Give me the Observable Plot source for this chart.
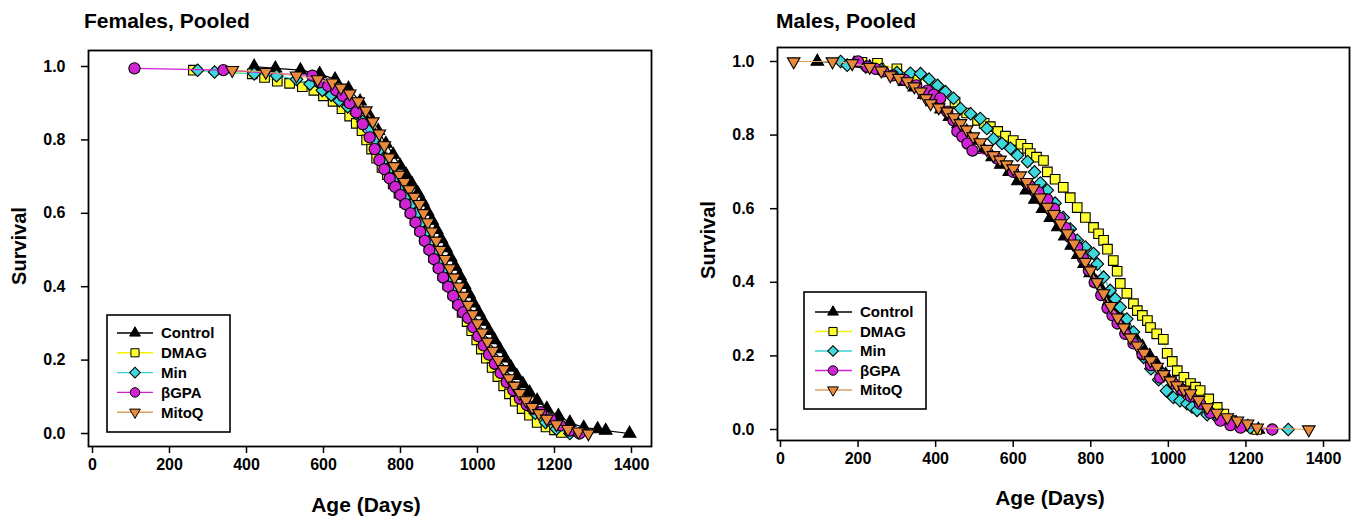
<!DOCTYPE html>
<html><head><meta charset="utf-8">
<script src="https://cdn.jsdelivr.net/npm/d3@7"></script>
<script src="https://cdn.jsdelivr.net/npm/@observablehq/plot@0.6"></script>
<style>
body{margin:0;background:#fff;font-family:"Liberation Sans",Arial,sans-serif;}
#wrap{position:relative;width:1351px;height:517px;overflow:hidden;background:#fff;}
#wrap svg{position:absolute;top:0;}
.t{position:absolute;font-weight:bold;color:#000;white-space:nowrap;line-height:1;}
</style></head><body><div id="wrap"></div>
<script>
// ---------- labels ----------
const seriesNames = ["Control", "DMAG", "Min", "βGPA", "MitoQ"];
const xTicks = [0, 200, 400, 600, 800, 1000, 1200, 1400];
const yTicks = [0, 0.2, 0.4, 0.6, 0.8, 1.0];
const panelTitles = ["Females, Pooled", "Males, Pooled"];
const xTitle = "Age (Days)";
const yTitle = "Survival";

// ---------- Females (age in days, survival fraction) ----------
const fControlDay  = [420,475,540,590,630,665,695,720,742,762,781,799,815,830,845,858,870,882,894,906,918,930,942,954,966,978,990,1003,1016,1030,1044,1058,1072,1087,1102,1118,1135,1155,1180,1210,1240,1276,1312,1333,1395];
const fControlSurv = [1.0,0.995,0.99,0.98,0.965,0.94,0.905,0.865,0.825,0.79,0.76,0.73,0.705,0.68,0.655,0.63,0.605,0.58,0.555,0.53,0.505,0.48,0.455,0.43,0.405,0.38,0.355,0.33,0.305,0.28,0.255,0.23,0.205,0.18,0.157,0.135,0.112,0.09,0.068,0.048,0.03,0.016,0.012,0.008,0.0];

const fDmagDay  = [262,415,447,480,512,545,575,600,625,648,668,685,700,712,725,738,752,766,781,796,811,825,838,850,862,874,886,898,910,923,936,948,960,973,985,998,1010,1023,1038,1053,1068,1083,1098,1116,1135,1155,1178,1200,1218];
const fDmagSurv = [0.99,0.98,0.97,0.96,0.954,0.945,0.935,0.92,0.905,0.885,0.865,0.845,0.825,0.8,0.775,0.75,0.725,0.705,0.68,0.655,0.63,0.605,0.58,0.555,0.53,0.505,0.48,0.455,0.43,0.405,0.38,0.355,0.33,0.305,0.28,0.255,0.23,0.205,0.18,0.155,0.13,0.108,0.088,0.068,0.05,0.03,0.018,0.01,0.003];

const fMinDay  = [273,317,420,478,530,565,597,620,641,663,685,702,718,733,748,762,776,790,804,817,830,843,855,867,879,891,903,915,928,941,954,967,980,993,1006,1020,1034,1048,1063,1078,1095,1112,1130,1150,1177,1205,1240];
const fMinSurv = [0.99,0.985,0.98,0.975,0.965,0.952,0.935,0.922,0.907,0.89,0.872,0.85,0.825,0.8,0.775,0.75,0.725,0.7,0.675,0.65,0.625,0.6,0.575,0.55,0.525,0.5,0.475,0.45,0.425,0.4,0.375,0.35,0.325,0.3,0.275,0.25,0.225,0.2,0.175,0.15,0.125,0.1,0.078,0.055,0.03,0.012,0.0];

const fGpaDay  = [109,340,571,590,612,633,650,668,685,702,720,733,745,758,772,786,800,813,826,839,851,863,875,887,899,911,924,937,950,963,976,989,1002,1016,1030,1045,1060,1076,1093,1110,1128,1145,1165,1190,1215,1240,1265];
const fGpaSurv = [0.995,0.99,0.975,0.957,0.947,0.935,0.92,0.9,0.875,0.843,0.807,0.775,0.745,0.72,0.695,0.672,0.65,0.625,0.6,0.575,0.55,0.525,0.5,0.475,0.45,0.425,0.4,0.375,0.35,0.33,0.315,0.29,0.265,0.24,0.215,0.19,0.165,0.14,0.118,0.095,0.078,0.068,0.058,0.04,0.022,0.008,0.0];

const fMitoDay  = [363,450,530,585,623,645,668,690,710,728,745,758,771,784,797,810,823,836,849,860,871,882,893,904,916,928,940,952,964,976,988,1000,1013,1026,1040,1054,1068,1082,1096,1110,1126,1142,1160,1180,1205,1235,1262,1288];
const fMitoSurv = [0.99,0.985,0.975,0.965,0.956,0.942,0.926,0.905,0.88,0.85,0.817,0.785,0.752,0.728,0.705,0.685,0.665,0.645,0.625,0.6,0.575,0.55,0.525,0.5,0.475,0.45,0.425,0.4,0.375,0.35,0.325,0.3,0.275,0.25,0.225,0.2,0.175,0.15,0.13,0.11,0.09,0.072,0.055,0.04,0.025,0.012,0.005,0.0];

// ---------- Males ----------
const mControlDay  = [95,190,230,265,295,320,345,370,392,414,436,458,480,502,524,546,568,590,612,634,656,676,696,715,733,750,767,783,799,815,831,847,863,880,897,915,933,952,972,993,1015,1038,1062,1088,1115,1145,1175,1205,1232];
const mControlSurv = [1.0,0.995,0.985,0.975,0.96,0.945,0.93,0.91,0.89,0.87,0.85,0.83,0.81,0.785,0.76,0.74,0.72,0.7,0.675,0.65,0.625,0.6,0.575,0.55,0.525,0.5,0.475,0.45,0.425,0.4,0.375,0.35,0.325,0.3,0.275,0.25,0.225,0.2,0.175,0.15,0.127,0.105,0.085,0.065,0.048,0.032,0.018,0.008,0.0];

const mDmagDay  = [210,250,300,350,400,450,480,508,525,541,560,580,600,620,637,644,660,678,688,708,729,747,765,786,807,820,833,843,858,868,876,893,910,920,933,946,954,970,987,997,1010,1023,1040,1057,1070,1082,1104,1126,1143,1160,1195,1228];
const mDmagSurv = [0.998,0.995,0.98,0.96,0.93,0.89,0.86,0.84,0.832,0.823,0.81,0.797,0.785,0.775,0.764,0.75,0.74,0.731,0.7,0.68,0.658,0.63,0.603,0.576,0.549,0.532,0.514,0.49,0.459,0.43,0.397,0.37,0.342,0.323,0.31,0.296,0.277,0.26,0.245,0.207,0.185,0.16,0.142,0.125,0.115,0.106,0.083,0.06,0.042,0.024,0.01,0.0];

const mMinDay  = [155,172,220,260,300,335,361,383,405,425,446,464,490,515,532,549,571,593,611,637,655,670,688,708,729,747,765,786,807,817,833,850,863,876,893,910,923,936,955,975,995,1013,1030,1048,1061,1074,1100,1130,1160,1190,1211,1309];
const mMinSurv = [1.0,0.99,0.985,0.978,0.97,0.968,0.967,0.952,0.935,0.918,0.9,0.872,0.858,0.845,0.818,0.79,0.777,0.764,0.745,0.728,0.7,0.67,0.65,0.615,0.576,0.545,0.514,0.496,0.478,0.45,0.414,0.378,0.355,0.332,0.3,0.265,0.23,0.196,0.165,0.135,0.105,0.087,0.078,0.07,0.061,0.052,0.04,0.028,0.018,0.01,0.005,0.0];

const mGpaDay  = [200,224,245,265,290,320,350,379,395,412,430,446,456,469,482,495,559,600,640,665,688,705,720,735,747,765,780,795,810,827,843,856,869,889,910,933,955,979,1013,1035,1058,1082,1108,1134,1160,1186,1268];
const mGpaSurv = [1.0,0.986,0.98,0.973,0.962,0.95,0.935,0.921,0.91,0.9,0.864,0.84,0.81,0.796,0.777,0.758,0.736,0.7,0.665,0.645,0.625,0.6,0.575,0.548,0.522,0.495,0.465,0.432,0.4,0.365,0.33,0.31,0.288,0.26,0.234,0.205,0.175,0.141,0.125,0.108,0.09,0.07,0.045,0.024,0.012,0.005,0.0];

const mMitoDay  = [34,134,185,230,260,283,305,327,345,361,375,387,408,430,447,464,480,497,515,532,549,566,583,600,618,635,652,670,688,705,722,740,757,773,786,799,816,833,851,869,885,902,920,937,954,971,988,1005,1022,1040,1057,1078,1100,1125,1152,1178,1204,1229,1362];
const mMitoSurv = [1.0,1.0,0.995,0.985,0.975,0.962,0.955,0.946,0.932,0.918,0.9,0.886,0.875,0.864,0.848,0.832,0.815,0.796,0.78,0.762,0.745,0.733,0.72,0.709,0.69,0.672,0.655,0.63,0.605,0.585,0.56,0.533,0.505,0.478,0.455,0.432,0.4,0.37,0.335,0.304,0.277,0.25,0.228,0.208,0.188,0.17,0.15,0.133,0.12,0.108,0.098,0.08,0.06,0.045,0.033,0.024,0.016,0.005,0.0];

// ---------- styles ----------
const markFill   = ["#000000", "#ffff30", "#3ed8dc", "#d024d4", "#ea8a3c"];
const lineStroke = ["#000000", "#f4f000", "#38d0d4", "#d020d0", "#dca060"];
const markSymbol = ["triangle", "square", "square", "circle", "triangle"];
const markRotate = [0, 0, 45, 0, 180];
const markR      = [4.7, 5.4, 5.0, 5.6, 4.7];

const femaleSeries = [[fControlDay,fControlSurv],[fDmagDay,fDmagSurv],[fMinDay,fMinSurv],[fGpaDay,fGpaSurv],[fMitoDay,fMitoSurv]];
const maleSeries   = [[mControlDay,mControlSurv],[mDmagDay,mDmagSurv],[mMinDay,mMinSurv],[mGpaDay,mGpaSurv],[mMitoDay,mMitoSurv]];

function toRows(series) {
  return series.map(([d, s], i) => d.map((day, k) => ({series: seriesNames[i], day, surv: s[k]})));
}

const FONT = '"Liberation Sans", Arial, Helvetica, sans-serif';

function makePanel(series, g) {
  const rows = toRows(series);
  const marks = [];
  rows.forEach((r, i) => {
    marks.push(Plot.line(r, {x: "day", y: "surv", stroke: lineStroke[i], strokeWidth: 1.2}));
    marks.push(Plot.dot(r, {x: "day", y: "surv", symbol: markSymbol[i], r: markR[i], rotate: markRotate[i],
      fill: markFill[i], stroke: "#000", strokeWidth: 1.1}));
  });
  return Plot.plot({
    width: g.width, height: 517,
    marginLeft: g.ml, marginRight: g.mr, marginTop: g.mt, marginBottom: g.mb,
    x: {domain: g.xd},
    y: {domain: g.yd},
    style: {fontFamily: FONT, fontSize: "16px", fontWeight: "bold", color: "#000", background: "transparent", overflow: "visible"},
    marks: [
      Plot.axisX({ticks: xTicks, tickFormat: d => String(d), tickSize: 7, tickPadding: 5, label: null, strokeWidth: 1.5}),
      Plot.axisY({ticks: yTicks, tickFormat: d3.format(".1f"), tickSize: 7, tickPadding: 16, label: null, strokeWidth: 1.5}),
      ...marks,
      Plot.frame({stroke: "#000", strokeWidth: 1.8})
    ]
  });
}

const wrap = document.getElementById("wrap");

const left = makePanel(femaleSeries, {width: 676, ml: 88, mr: 25, mt: 50, mb: 71, xd: [-10.4, 1452], yd: [-0.0354, 1.0436]});
left.style.left = "0px";
wrap.appendChild(left);

const right = makePanel(maleSeries, {width: 675, ml: 101, mr: 2, mt: 47, mb: 77, xd: [-7.7, 1467], yd: [-0.0299, 1.038]});
right.style.left = "676px";
wrap.appendChild(right);

function addText(txt, x, y, size, center) {
  const d = document.createElement("div");
  d.className = "t";
  d.textContent = txt;
  d.style.fontSize = size + "px";
  d.style.fontFamily = FONT;
  d.style.left = x + "px";
  d.style.top = y + "px";
  if (center) d.style.transform = "translate(-50%,-50%)";
  wrap.appendChild(d);
  return d;
}

addText(panelTitles[0], 84, 10, 21);
addText(panelTitles[1], 776, 10, 21);
addText(xTitle, 366, 504, 21, true);
addText(xTitle, 1050, 497, 21, true);

function addRotated(txt, cx, cy, size) {
  const d = document.createElement("div");
  d.className = "t";
  d.textContent = txt;
  d.style.fontSize = size + "px";
  d.style.fontFamily = FONT;
  d.style.left = cx + "px";
  d.style.top = cy + "px";
  d.style.transform = "translate(-50%,-50%) rotate(-90deg)";
  wrap.appendChild(d);
}
addRotated(yTitle, 19, 246, 20);
addRotated(yTitle, 708, 240, 20);

// ---------- legends ----------
const symTypes = [d3.symbolTriangle, d3.symbolSquare, d3.symbolSquare, d3.symbolCircle, d3.symbolTriangle];
function legend(L) {
  const svg = d3.select(wrap).append("svg")
    .attr("width", 1351).attr("height", 517)
    .style("left", "0px").style("pointer-events", "none");
  svg.append("rect").attr("x", L.x).attr("y", L.y).attr("width", L.w).attr("height", L.h)
    .attr("fill", "#fff").attr("stroke", "#000").attr("stroke-width", 1.6);
  seriesNames.forEach((n, i) => {
    const y = L.y0 + i * L.dy;
    svg.append("line").attr("x1", L.lx1).attr("x2", L.lx2).attr("y1", y).attr("y2", y)
      .attr("stroke", lineStroke[i]).attr("stroke-width", 1.4);
    const r = markR[i] * 0.85;
    svg.append("path")
      .attr("d", d3.symbol().type(symTypes[i]).size(Math.PI * r * r)())
      .attr("transform", `translate(${L.mx},${y}) rotate(${markRotate[i]})`)
      .attr("fill", markFill[i]).attr("stroke", "#000").attr("stroke-width", 1);
    svg.append("text").attr("x", L.tx).attr("y", y).attr("dy", "0.36em")
      .attr("font-family", FONT).attr("font-weight", "bold").attr("font-size", 15)
      .text(n);
  });
}
legend({x: 107, y: 315, w: 123, h: 117, y0: 333, dy: 19.8, lx1: 117, lx2: 153, mx: 135, tx: 161});
legend({x: 804, y: 292, w: 122, h: 117, y0: 312, dy: 19.5, lx1: 815, lx2: 852, mx: 833, tx: 860});
</script>
</body></html>
